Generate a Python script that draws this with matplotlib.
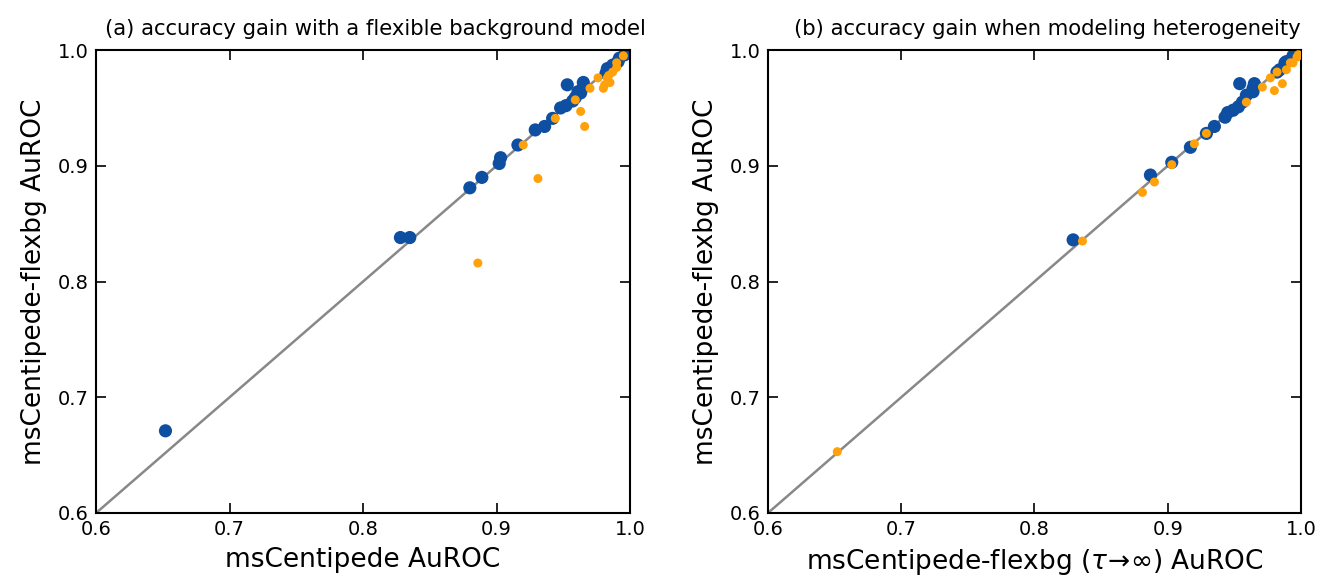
import matplotlib
matplotlib.use("Agg")
import matplotlib.pyplot as plt
import numpy as np

# panel (a): msCentipede vs msCentipede-flexbg
a_blue_x = [0.652, 0.828, 0.835, 0.880, 0.889, 0.903, 0.902, 0.916, 0.929, 0.936, 0.942,
            0.948, 0.952, 0.953, 0.957, 0.959, 0.961, 0.963, 0.965, 0.965, 0.982, 0.983,
            0.987, 0.991, 0.992, 0.996]
a_blue_y = [0.671, 0.838, 0.838, 0.881, 0.890, 0.907, 0.902, 0.918, 0.931, 0.934, 0.941,
            0.950, 0.952, 0.970, 0.956, 0.959, 0.964, 0.963, 0.968, 0.972, 0.980, 0.984,
            0.987, 0.990, 0.993, 0.996]
a_orange_x = [0.886, 0.931, 0.963, 0.966, 0.920, 0.944, 0.959, 0.970, 0.976, 0.980,
              0.981, 0.983, 0.984, 0.985, 0.987, 0.990, 0.990, 0.995]
a_orange_y = [0.816, 0.889, 0.947, 0.934, 0.918, 0.941, 0.957, 0.967, 0.976, 0.967,
              0.970, 0.976, 0.978, 0.972, 0.981, 0.985, 0.989, 0.995]

# panel (b): msCentipede-flexbg (tau -> inf) vs msCentipede-flexbg
b_blue_x = [0.829, 0.887, 0.903, 0.917, 0.929, 0.935, 0.943, 0.945, 0.949, 0.953, 0.954,
            0.956, 0.959, 0.964, 0.964, 0.965, 0.982, 0.984, 0.988, 0.989, 0.992, 0.994]
b_blue_y = [0.836, 0.892, 0.903, 0.916, 0.928, 0.934, 0.942, 0.946, 0.948, 0.951, 0.971,
            0.955, 0.961, 0.964, 0.967, 0.971, 0.981, 0.983, 0.989, 0.990, 0.991, 0.995]
b_orange_x = [0.652, 0.836, 0.881, 0.890, 0.903, 0.920, 0.929, 0.959, 0.971, 0.977,
              0.980, 0.982, 0.986, 0.989, 0.992, 0.994, 0.997, 0.998]
b_orange_y = [0.653, 0.835, 0.877, 0.886, 0.901, 0.919, 0.928, 0.955, 0.968, 0.976,
              0.965, 0.981, 0.971, 0.983, 0.989, 0.989, 0.994, 0.996]

ticks = [0.6, 0.7, 0.8, 0.9, 1.0]
blue = '#0e4fa1'
orange = '#ffa10a'

fig = plt.figure(figsize=(13.25, 5.79), dpi=100)
ax1 = fig.add_axes([0.0725, 0.114, 0.403, 0.7995])
ax2 = fig.add_axes([0.5796, 0.114, 0.4023, 0.7995])

panels = [
    (ax1, a_blue_x, a_blue_y, a_orange_x, a_orange_y,
     'msCentipede AuROC', '(a) accuracy gain with a flexible background model'),
    (ax2, b_blue_x, b_blue_y, b_orange_x, b_orange_y,
     r'msCentipede-flexbg ($\tau\!\rightarrow\!\infty$) AuROC',
     '(b) accuracy gain when modeling heterogeneity'),
]

for ax, bx, by, ox, oy, xlab, title in panels:
    ax.plot([0.6, 1.0], [0.6, 1.0], color='#888888', lw=1.8, zorder=1)
    ax.scatter(bx, by, s=90, color=blue, edgecolors='none', zorder=2)
    ax.scatter(ox, oy, s=42, color=orange, edgecolors='none', zorder=3)
    ax.set_xlim(0.6, 1.0)
    ax.set_ylim(0.6, 1.0)
    ax.set_xticks(ticks)
    ax.set_yticks(ticks)
    ax.set_xticklabels(['%.1f' % t for t in ticks])
    ax.set_yticklabels(['%.1f' % t for t in ticks])
    ax.tick_params(direction='in', length=7, width=1.2, top=True, right=True,
                   labelsize=14, pad=5)
    for sp in ax.spines.values():
        sp.set_linewidth(1.5)
    ax.set_xlabel(xlab, fontsize=19, labelpad=6)
    ax.set_ylabel('msCentipede-flexbg AuROC', fontsize=19, labelpad=8)
    ax.set_title(title, fontsize=15.2, pad=11, x=0.524)

fig.savefig('out.png', dpi=100)
